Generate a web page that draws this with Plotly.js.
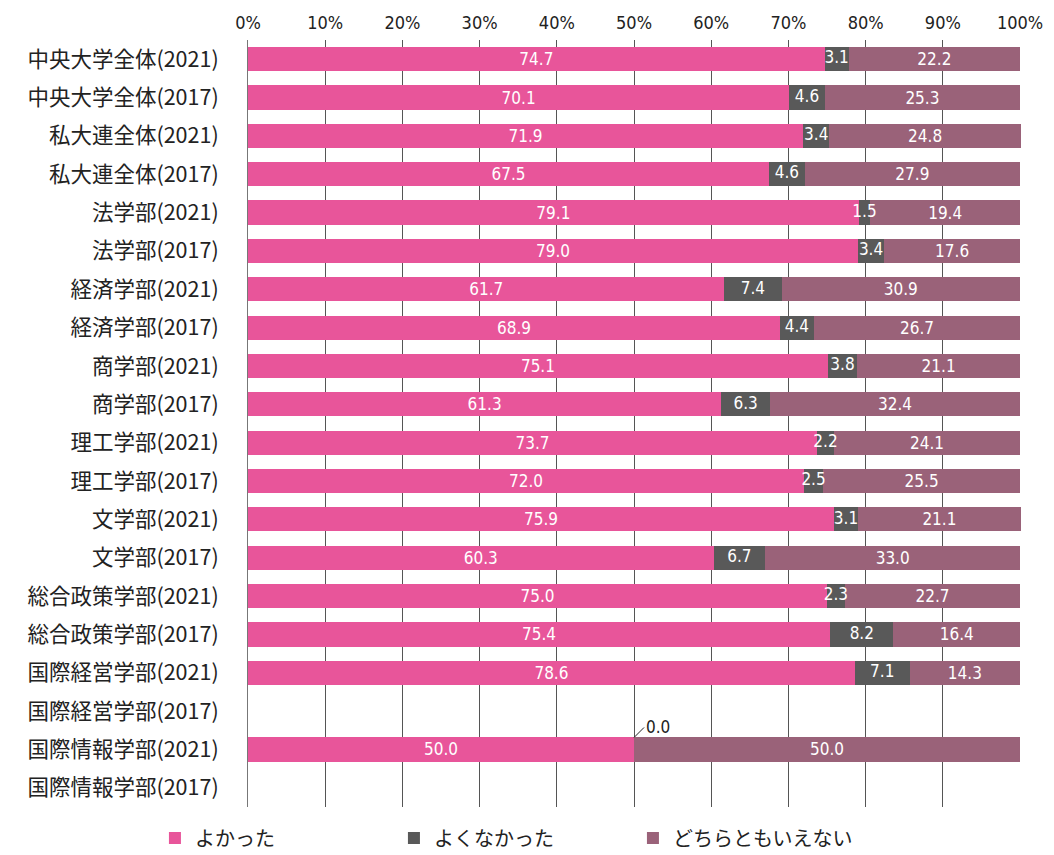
<!DOCTYPE html>
<html><head><meta charset="utf-8">
<script src="https://cdn.plot.ly/plotly-3.0.1.min.js"></script>
<style>body{margin:0;background:#fff}</style>
</head><body><div id="chart" style="width:1054px;height:855px"></div>
<script>
const categories = ["中央大学全体(2021)","中央大学全体(2017)","私大連全体(2021)","私大連全体(2017)","法学部(2021)","法学部(2017)","経済学部(2021)","経済学部(2017)","商学部(2021)","商学部(2017)","理工学部(2021)","理工学部(2017)","文学部(2021)","文学部(2017)","総合政策学部(2021)","総合政策学部(2017)","国際経営学部(2021)","国際経営学部(2017)","国際情報学部(2021)","国際情報学部(2017)"];
const good = [74.7,70.1,71.9,67.5,79.1,79.0,61.7,68.9,75.1,61.3,73.7,72.0,75.9,60.3,75.0,75.4,78.6,null,50.0,null];
const bad = [3.1,4.6,3.4,4.6,1.5,3.4,7.4,4.4,3.8,6.3,2.2,2.5,3.1,6.7,2.3,8.2,7.1,null,0.0,null];
const neither = [22.2,25.3,24.8,27.9,19.4,17.6,30.9,26.7,21.1,32.4,24.1,25.5,21.1,33.0,22.7,16.4,14.3,null,50.0,null];
const seriesNames = ["よかった","よくなかった","どちらともいえない"];
const colors = ["#E8559A","#595959","#9A6279"];
const xTicks = [0,10,20,30,40,50,60,70,80,90,100];

const numFont = "'DejaVu Sans Condensed', 'Noto Sans CJK JP', sans-serif";
const jpFont = "'Noto Sans CJK JP', sans-serif";

function txt(arr){ return arr.map(v => (v===null || v===0) ? "" : v.toFixed(1)); }

const traces = [good,bad,neither].map((vals,i)=>({
  type:'bar', orientation:'h', name:seriesNames[i], y:categories, x:vals,
  marker:{color:colors[i]}, text: i===1 ? null : txt(vals), textposition: i===1 ? 'none' : 'inside', textangle:0,
  insidetextanchor:'middle', constraintext:'none', cliponaxis:true,
  textfont:{color:'#fff', size:17, family:numFont}, hoverinfo:'none'
}));

// labels of the middle series drawn on top so they may overflow their narrow segments
traces.push({
  type:'scatter', mode:'text', showlegend:false, hoverinfo:'none', cliponaxis:false,
  y:categories, x:bad.map((v,i)=> (v===null||v===0) ? null : good[i] + v/2),
  text:txt(bad), textposition:'middle center',
  textfont:{color:'#fff', size:17, family:numFont}
});

const annotations = [];
bad.forEach((v,i)=>{
  if(v===0){
    annotations.push({x:good[i], y:categories[i], xref:'x', yref:'y', text:'0.0',
      showarrow:true, arrowhead:0, arrowwidth:1, arrowcolor:'#222',
      ax:10, ay:-10, xanchor:'left', yanchor:'middle',
      font:{size:17, family:numFont, color:'#222'}, yshift:12});
  }
});

const layout = {
  width:1054, height:855, barmode:'stack', bargap:0.37,
  margin:{l:248, r:33, t:40, b:48, autoexpand:false},
  paper_bgcolor:'#fff', plot_bgcolor:'#fff',
  font:{family:jpFont, color:'#222'},
  xaxis:{side:'top', range:[0,100.12], tickvals:xTicks, ticktext:xTicks.map(v=>v+'%'), showgrid:true,
    gridcolor:'#555', gridwidth:1, zeroline:false, showline:false,
    tickfont:{size:18, family:numFont, color:'#222'}, ticks:'', ticklabelstandoff:6, fixedrange:true},
  yaxis:{range:[categories.length-0.5, -0.5], type:'category', showgrid:false, zeroline:false,
    showline:true, linecolor:'#777', linewidth:1,
    tickfont:{size:21.5, family:jpFont, color:'#222'}, ticks:'', ticklabelstandoff:24},
  showlegend:true,
  legend:{orientation:'h', xref:'container', yref:'container', x:0.147, y:0.02, xanchor:'left', yanchor:'middle',
    entrywidth:194, entrywidthmode:'pixels', traceorder:'normal',
    font:{size:20, family:jpFont, color:'#222'}},
  annotations:annotations
};
Plotly.newPlot('chart', traces, layout, {displayModeBar:false, staticPlot:true});
</script></body></html>
